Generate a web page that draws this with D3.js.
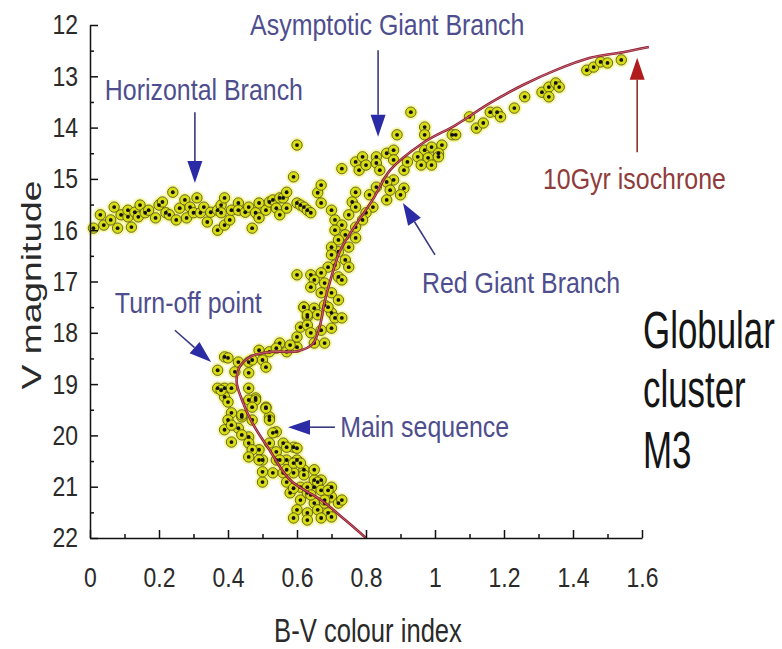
<!DOCTYPE html>
<html><head><meta charset="utf-8">
<script src="https://cdn.jsdelivr.net/npm/d3@7/dist/d3.min.js"></script>
<style>
body{margin:0;background:#fff;}
svg text{font-family:'Liberation Sans',Arial,sans-serif;}
</style></head>
<body><svg id="c" width="782" height="649"></svg>
<script>
// ---- data (B-V colour index, V magnitude) ----
const horizontalBranch = [
[0.01,15.96],[0.03,15.70],[0.04,15.90],[0.06,15.80],[0.07,15.55],[0.08,15.96],[0.09,15.70],[0.11,15.74],[0.11,15.61],
[0.12,15.94],[0.13,15.65],[0.14,15.74],[0.145,15.51],[0.16,15.66],[0.17,15.61],[0.19,15.76],[0.20,15.51],[0.21,15.45],
[0.22,15.66],[0.23,15.70],[0.24,15.26],[0.25,15.80],[0.26,15.57],[0.275,15.41],[0.28,15.76],[0.29,15.55],[0.30,15.66],
[0.31,15.37],[0.32,15.66],[0.33,15.55],[0.34,15.84],[0.35,15.65],[0.37,15.61],[0.37,16.00],[0.38,15.51],[0.39,15.37],
[0.39,15.90],[0.38,15.66],[0.405,15.80],[0.41,15.61],[0.43,15.47],[0.43,15.61],[0.45,15.65],[0.46,15.55],[0.47,15.96],
[0.48,15.66],[0.49,15.47],[0.49,15.76],[0.51,15.61],[0.52,15.45],[0.53,15.41],[0.54,15.57],[0.55,15.37],[0.55,15.70],
[0.56,15.37],[0.57,15.57],[0.57,15.26],[0.59,14.96],[0.60,15.47],[0.61,15.51],[0.62,15.55],[0.63,15.61],[0.64,15.66],
[0.66,15.27],[0.67,15.12],[0.67,15.47],[0.70,15.61],[0.60,14.34],[0.73,14.80],[0.60,16.87]
];
const redGiantBranch = [
[0.77,14.67],[0.78,14.83],[0.79,14.57],[0.80,14.73],[0.83,14.57],[0.83,14.69],[0.84,14.83],[0.86,14.50],[0.88,14.44],
[0.88,14.63],[0.91,14.83],[0.88,15.02],[0.86,15.06],[0.83,15.16],[0.86,15.41],[0.82,15.55],[0.77,15.26],[0.76,15.45],
[0.77,15.55],[0.80,15.66],[0.75,15.70],[0.71,15.80],[0.73,15.90],[0.77,15.94],[0.79,15.80],[0.71,16.00],[0.74,16.09],
[0.72,16.19],[0.77,16.15],[0.75,16.33],[0.72,16.42],[0.70,16.33],[0.70,16.48],[0.74,16.58],[0.75,16.72],[0.71,16.68],
[0.69,16.72],[0.67,16.83],[0.64,16.87],[0.65,16.97],[0.68,17.03],[0.72,16.91],[0.73,16.97],[0.64,17.11],[0.67,17.22],
[0.70,17.22],[0.72,17.36],[0.62,17.50],[0.65,17.52],[0.68,17.46],[0.70,17.61],[0.63,17.69],[0.91,15.18],[0.90,15.31],
[0.87,15.22],[0.81,15.31],
[0.93,13.70],[0.89,14.14],[0.97,13.99],[0.97,14.14],[0.97,14.44],[0.99,14.38],[1.02,14.34],[1.05,14.14],[1.06,14.14],
[1.01,14.50],[0.98,14.59],[0.95,14.57],[0.92,14.67],[0.96,14.73],[0.99,14.73],[1.01,14.57],[1.10,13.79],[1.12,14.01],
[1.14,13.91],[1.16,13.70],[1.18,13.70],[1.19,13.79],[1.23,13.62],[1.26,13.40],[1.31,13.31],[1.33,13.21],[1.33,13.40],
[1.35,13.13],[1.36,13.21],[1.44,12.88],[1.46,12.82],[1.48,12.72],[1.50,12.74],[1.54,12.68]
];
const subgiantTurnoff = [
[0.39,18.47],[0.37,18.73],[0.39,19.08],[0.41,19.08],[0.39,19.25],[0.42,18.76],[0.43,18.57],[0.46,18.57],[0.47,18.53],
[0.50,18.53],[0.49,18.34],[0.52,18.37],[0.55,18.20],[0.51,18.67],[0.46,18.78],[0.46,19.08],[0.48,19.27],[0.51,19.45],
[0.60,18.28],[0.60,18.08],[0.61,17.89],[0.63,17.85],[0.64,18.00],[0.66,17.65],[0.69,17.50],[0.71,17.71],[0.70,17.91],
[0.67,17.95],[0.65,18.20],[0.68,18.20],[0.62,17.50],[0.63,17.65],[0.73,17.71],[0.40,18.49],[0.37,19.08],[0.38,19.12],
[0.40,19.35],[0.41,19.56],[0.40,19.70],[0.43,19.86],[0.44,19.64],[0.46,19.31],[0.46,20.03],[0.48,19.31],[0.52,19.64],
[0.47,19.70],[0.57,18.37],[0.58,18.24],[0.54,18.30]
];
const mainSequence = [
[0.49,20.28],[0.50,20.48],[0.52,20.15],[0.54,19.93],[0.56,20.15],[0.59,20.23],[0.57,20.48],[0.60,20.48],[0.54,20.48],
[0.53,20.73],[0.50,20.91],[0.56,20.73],[0.59,20.73],[0.62,20.67],[0.61,21.01],[0.58,21.12],[0.61,21.26],[0.63,21.12],
[0.65,21.01],[0.67,20.87],[0.65,21.32],[0.60,21.45],[0.63,21.51],[0.66,21.45],[0.68,21.32],[0.70,21.20],[0.72,21.32],
[0.73,21.26],[0.69,21.51],[0.67,21.61],[0.70,21.59],[0.63,21.65],[0.59,21.61],[0.65,20.87],[0.70,21.01],
[0.39,19.89],[0.41,20.13],[0.44,19.99],[0.46,20.15],[0.47,20.28],[0.46,20.42],[0.49,20.48],[0.50,20.71],[0.53,19.95],
[0.54,20.32],[0.55,20.48],[0.57,20.67],[0.57,20.91],[0.57,20.23],[0.60,20.25],[0.59,20.54],[0.61,20.54],[0.62,20.77],
[0.59,21.03],[0.63,21.01],[0.65,20.67],[0.66,20.91],[0.64,21.16],[0.68,21.26],[0.67,21.07],[0.69,21.07],[0.47,19.45],
[0.51,19.47],[0.52,19.70],[0.44,19.60],[0.41,19.80]
];
const isochrone = [
[0.80,22.0],[0.74,21.65],[0.67,21.26],[0.58,20.87],[0.52,20.28],[0.47,19.75],[0.44,19.3],[0.425,18.95],[0.435,18.65],
[0.47,18.45],[0.53,18.37],[0.60,18.36],[0.645,18.22],[0.665,17.9],[0.68,17.4],[0.70,16.9],[0.725,16.4],[0.76,16.0],
[0.82,15.4],[0.87,14.83],[0.965,14.3],[1.06,13.95],[1.16,13.52],[1.255,13.17],[1.35,12.88],[1.45,12.64],[1.545,12.53],[1.62,12.43]
];
const xTicks = [0,0.2,0.4,0.6,0.8,1,1.2,1.4,1.6];
const yTicks = [12,13,14,15,16,17,18,19,20,21,22];
// annotations: label, text anchor point, arrow tail, arrow tip (data units)
const annotations = [
  {text:"Asymptotic Giant Branch", tx:0.464, ty:12.20, from:[0.835,12.49], to:[0.835,14.18], kind:"blue"},
  {text:"Horizontal Branch", tx:0.043, ty:13.46, from:[0.304,13.70], to:[0.304,15.08], kind:"blue"},
  {text:"10Gyr isochrone", tx:1.313, ty:15.20, from:[1.586,14.48], to:[1.586,12.64], kind:"red"},
  {text:"Red Giant Branch", tx:0.962, ty:17.22, from:[1.0,16.48], to:[0.907,15.47], kind:"blue"},
  {text:"Turn-off point", tx:0.072, ty:17.61, from:[0.246,17.95], to:[0.351,18.57], kind:"blue"},
  {text:"Main sequence", tx:0.725, ty:20.03, from:[0.71,19.84], to:[0.574,19.84], kind:"blue"}
];
const titleLines = ["Globular","cluster","M3"];
const titleBaselines = [18.30, 19.45, 20.64];

// ---- drawing ----
const svg = d3.select("#c");
const x = d3.scaleLinear().domain([0,1.6]).range([90,642]);
const y = d3.scaleLinear().domain([12,22]).range([25,538]);

function ctext(px, py, str, fs, sx, sy, fill, anchor){
  return svg.append("text").attr("transform",`translate(${px},${py}) scale(${sx},${sy})`)
    .attr("font-size",fs).attr("fill",fill).attr("text-anchor",anchor||"start").text(str);
}

const stars = [].concat(horizontalBranch, redGiantBranch, subgiantTurnoff, mainSequence);
const g = svg.append("g");
g.selectAll("circle.halo").data(stars).join("circle").attr("class","halo")
  .attr("cx",d=>x(d[0])).attr("cy",d=>y(d[1])).attr("r",7.5)
  .attr("fill","#eef04a").attr("opacity",0.45);
g.selectAll("circle.star").data(stars).join("circle").attr("class","star")
  .attr("cx",d=>x(d[0])).attr("cy",d=>y(d[1])).attr("r",5.2)
  .attr("fill","#d7dc14").attr("stroke","#4a4a10").attr("stroke-width",0.8);
g.selectAll("circle.core").data(stars).join("circle").attr("class","core")
  .attr("cx",d=>x(d[0])).attr("cy",d=>y(d[1])).attr("r",1.9)
  .attr("fill","#111");

const line = d3.line().x(d=>x(d[0])).y(d=>y(d[1])).curve(d3.curveCatmullRom.alpha(0.5));
svg.append("path").datum(isochrone).attr("d",line).attr("fill","none")
  .attr("stroke","#8e1e30").attr("stroke-width",2.6);
svg.append("path").datum(isochrone).attr("d",line).attr("fill","none")
  .attr("stroke","#e88ca0").attr("stroke-width",0.8).attr("opacity",0.8);

// axes
function styleAxis(sel){
  sel.selectAll("path,line").attr("stroke","#111").attr("stroke-width",1.5);
  sel.selectAll("text").attr("fill","#2a2a2a").attr("font-size",28);
}
const xa = svg.append("g").attr("transform",`translate(0,${y(22)})`)
  .call(d3.axisBottom(x).tickValues(xTicks).tickFormat(d3.format("~g")).tickSizeInner(-8).tickSizeOuter(0).tickPadding(29));
styleAxis(xa);
xa.selectAll("text").attr("transform","scale(0.82,1)");
const xm = svg.append("g").attr("transform",`translate(0,${y(22)})`)
  .call(d3.axisBottom(x).tickValues(d3.range(0.1,1.6,0.2)).tickFormat("").tickSizeInner(-4).tickSizeOuter(0));
styleAxis(xm); xm.select("path").remove();
const ya = svg.append("g").attr("transform",`translate(${x(0)},0)`)
  .call(d3.axisLeft(y).tickValues(yTicks).tickFormat(d3.format("d")).tickSizeInner(-8).tickSizeOuter(0).tickPadding(12));
styleAxis(ya);
ya.selectAll("text").attr("x",-12/0.82).attr("transform","scale(0.82,1)");
const ym = svg.append("g").attr("transform",`translate(${x(0)},0)`)
  .call(d3.axisLeft(y).tickValues(d3.range(12.5,22,1)).tickFormat("").tickSizeInner(-4).tickSizeOuter(0));
styleAxis(ym); ym.select("path").remove();

// axis titles
ctext((x(0)+x(1.6))/2+2, 642, "B-V colour index", 32, 0.8, 1.02, "#2a2a2a", "middle");
svg.append("text").attr("transform",`translate(41,285) rotate(-90) scale(1.33,1)`)
  .attr("text-anchor","middle").attr("font-size",28).attr("fill","#2a2a2a").text("V magnitude");

// annotations
const colors = {blue:{text:"#4e4e8e",arrow:"#2b2ba6",line:"#3a3a80"}, red:{text:"#8e3c3c",arrow:"#b01c1c",line:"#8a3030"}};
annotations.forEach(a=>{
  const c = colors[a.kind];
  const x1=x(a.from[0]), y1=y(a.from[1]), x2=x(a.to[0]), y2=y(a.to[1]);
  const ang = Math.atan2(y2-y1,x2-x1), L=22, W=7.5;
  const bx = x2-L*Math.cos(ang), by = y2-L*Math.sin(ang);
  svg.append("line").attr("x1",x1).attr("y1",y1).attr("x2",bx).attr("y2",by)
    .attr("stroke",c.line).attr("stroke-width",1.6);
  const px=-Math.sin(ang), py=Math.cos(ang);
  svg.append("polygon").attr("points",[[x2,y2],[bx+W*px,by+W*py],[bx-W*px,by-W*py]].map(p=>p.join(",")).join(" "))
    .attr("fill",c.arrow);
  ctext(x(a.tx), y(a.ty), a.text, 29, 0.86, 1, c.text);
});
titleLines.forEach((t,i)=>{
  ctext(x(1.603), y(titleBaselines[i]), t, 42, 0.83, 1.24, "#151515");
});
</script></body></html>
